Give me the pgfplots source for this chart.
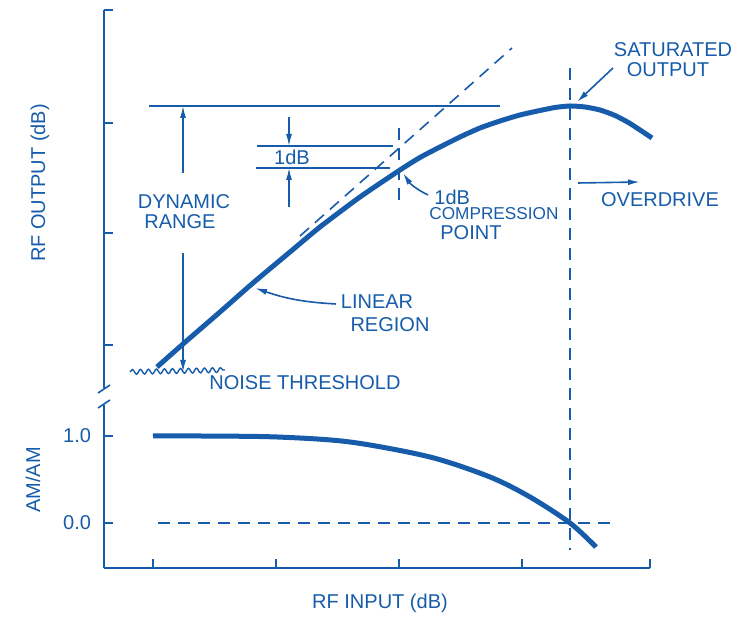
\documentclass[border=0pt]{standalone}
\usepackage{pgfplots}
\pgfplotsset{compat=1.18}
\usepackage{fontspec}
\setmainfont{Liberation Sans}
\usetikzlibrary{arrows.meta,decorations.pathmorphing}
\definecolor{ink}{RGB}{22,92,170}

\begin{document}
\begin{tikzpicture}[every node/.style={text=ink, font=\fontsize{10}{11}\selectfont}]
\begin{axis}[
  scale only axis,
  width=273pt, height=279pt,
  xmin=104, xmax=650, ymin=47, ymax=605,
  axis lines=left,
  axis line style={-, ink, line width=1pt},
  clip=false,
  xtick={153,276,399,522,650}, xticklabels={},
  ytick={92,179,270,382,492,605}, yticklabels={0.0,1.0,,,,},
  tick align=inside,
  major tick length=4.5pt,
  tick style={ink, line width=1pt},
  yticklabel style={text=ink, font=\fontsize{10}{11}\selectfont, xshift=-3pt},
]
% keep the page at the reference's size
\path (axis cs:0,0) rectangle (axis cs:748,615);

% RF output curve
\addplot[ink, line width=2.5pt, smooth, tension=0.4] coordinates {
  (157,248) (183,271) (220,303) (253,332) (290,363) (320,388) (360,418)
  (400,445) (420,457.5) (440,468) (460,478) (480,487) (500,494) (520,500)
  (540,504.5) (555,507.5) (570,509) (585,508) (600,505) (615,499.5) (630,491.5) (652,477)
};
% linear extrapolation
\addplot[ink, line width=0.8pt, dash pattern=on 6pt off 4pt] coordinates {(300,379) (512,567)};

% AM/AM curve
\addplot[ink, line width=2.5pt, smooth, tension=0.5] coordinates {
  (153,179) (200,179) (277,178) (350,173) (430,158) (490,138) (530,118) (570,92) (596,68)
};
\addplot[ink, line width=0.8pt, dash pattern=on 6pt off 4pt] coordinates {(158,92) (610,92)};

% reference lines
\addplot[ink, line width=0.8pt, dash pattern=on 6pt off 4pt] coordinates {(570,547) (570,65)};
\addplot[ink, line width=0.8pt, dash pattern=on 6pt off 4pt] coordinates {(399,415) (399,490)};
\addplot[ink, line width=0.7pt] coordinates {(149,509) (500,509)};
\addplot[ink, line width=0.7pt] coordinates {(257,469) (393,469)};
\addplot[ink, line width=0.7pt] coordinates {(256,447) (390,447)};

% dynamic range arrows
\draw[ink, line width=0.7pt, -{Latex[length=6pt,width=3pt]}] (axis cs:183,442) -- (axis cs:183,509);
\draw[ink, line width=0.7pt, -{Latex[length=6pt,width=3pt]}] (axis cs:183,362) -- (axis cs:183,243);
% 1 dB arrows
\draw[ink, line width=0.7pt, -{Latex[length=6pt,width=3pt]}] (axis cs:289,498) -- (axis cs:289,469);
\draw[ink, line width=0.7pt, -{Latex[length=6pt,width=3pt]}] (axis cs:289,408) -- (axis cs:289,447);

% noise floor
\draw[ink, line width=0.7pt, decorate, decoration={snake, amplitude=1.2pt, segment length=4pt}]
  (axis cs:130,243) -- (axis cs:225,245);

% y axis break
\fill[white] (axis cs:96,210) rectangle (axis cs:112,227);
\draw[ink, line width=0.8pt] (axis cs:98,222) -- (axis cs:110,230);
\draw[ink, line width=0.8pt] (axis cs:98,207) -- (axis cs:110,215);

% annotation arrows
\draw[ink, line width=0.8pt, -{Latex[length=6pt,width=3pt]}] (axis cs:613,547) -- (axis cs:577,513);
\draw[ink, line width=0.8pt, -{Latex[length=6pt,width=3pt]}] (axis cs:578,432) -- (axis cs:640,433);
\draw[ink, line width=0.8pt, -{Latex[length=6pt,width=3pt]}] (axis cs:428,420) to[bend left=15] (axis cs:403,442);
\draw[ink, line width=0.8pt, -{Latex[length=6pt,width=3pt]}] (axis cs:336,311) to[bend left=8] (axis cs:255,327);

% labels
\node at (axis cs:184,413) {DYNAMIC};
\node at (axis cs:180,393) {RANGE};
\node at (axis cs:292,458) {1dB};
\node[anchor=west, inner sep=1pt] at (axis cs:432,418) {1dB};
\node[anchor=west, inner sep=1pt, font=\fontsize{8.6}{9}\selectfont] at (axis cs:427,401) {COMPRESSION};
\node[anchor=west, inner sep=1pt] at (axis cs:438,382) {POINT};
\node at (axis cs:673,565) {SATURATED};
\node at (axis cs:668,545) {OUTPUT};
\node at (axis cs:660,415) {OVERDRIVE};
\node at (axis cs:377,313) {LINEAR};
\node at (axis cs:390,290) {REGION};
\node at (axis cs:305,232) {NOISE THRESHOLD};
\node at (axis cs:380,12) {RF INPUT (dB)};
\node[rotate=90] at (axis cs:40,432) {RF OUTPUT (dB)};
\node[rotate=90] at (axis cs:33,135) {AM/AM};
\end{axis}
\end{tikzpicture}
\end{document}
